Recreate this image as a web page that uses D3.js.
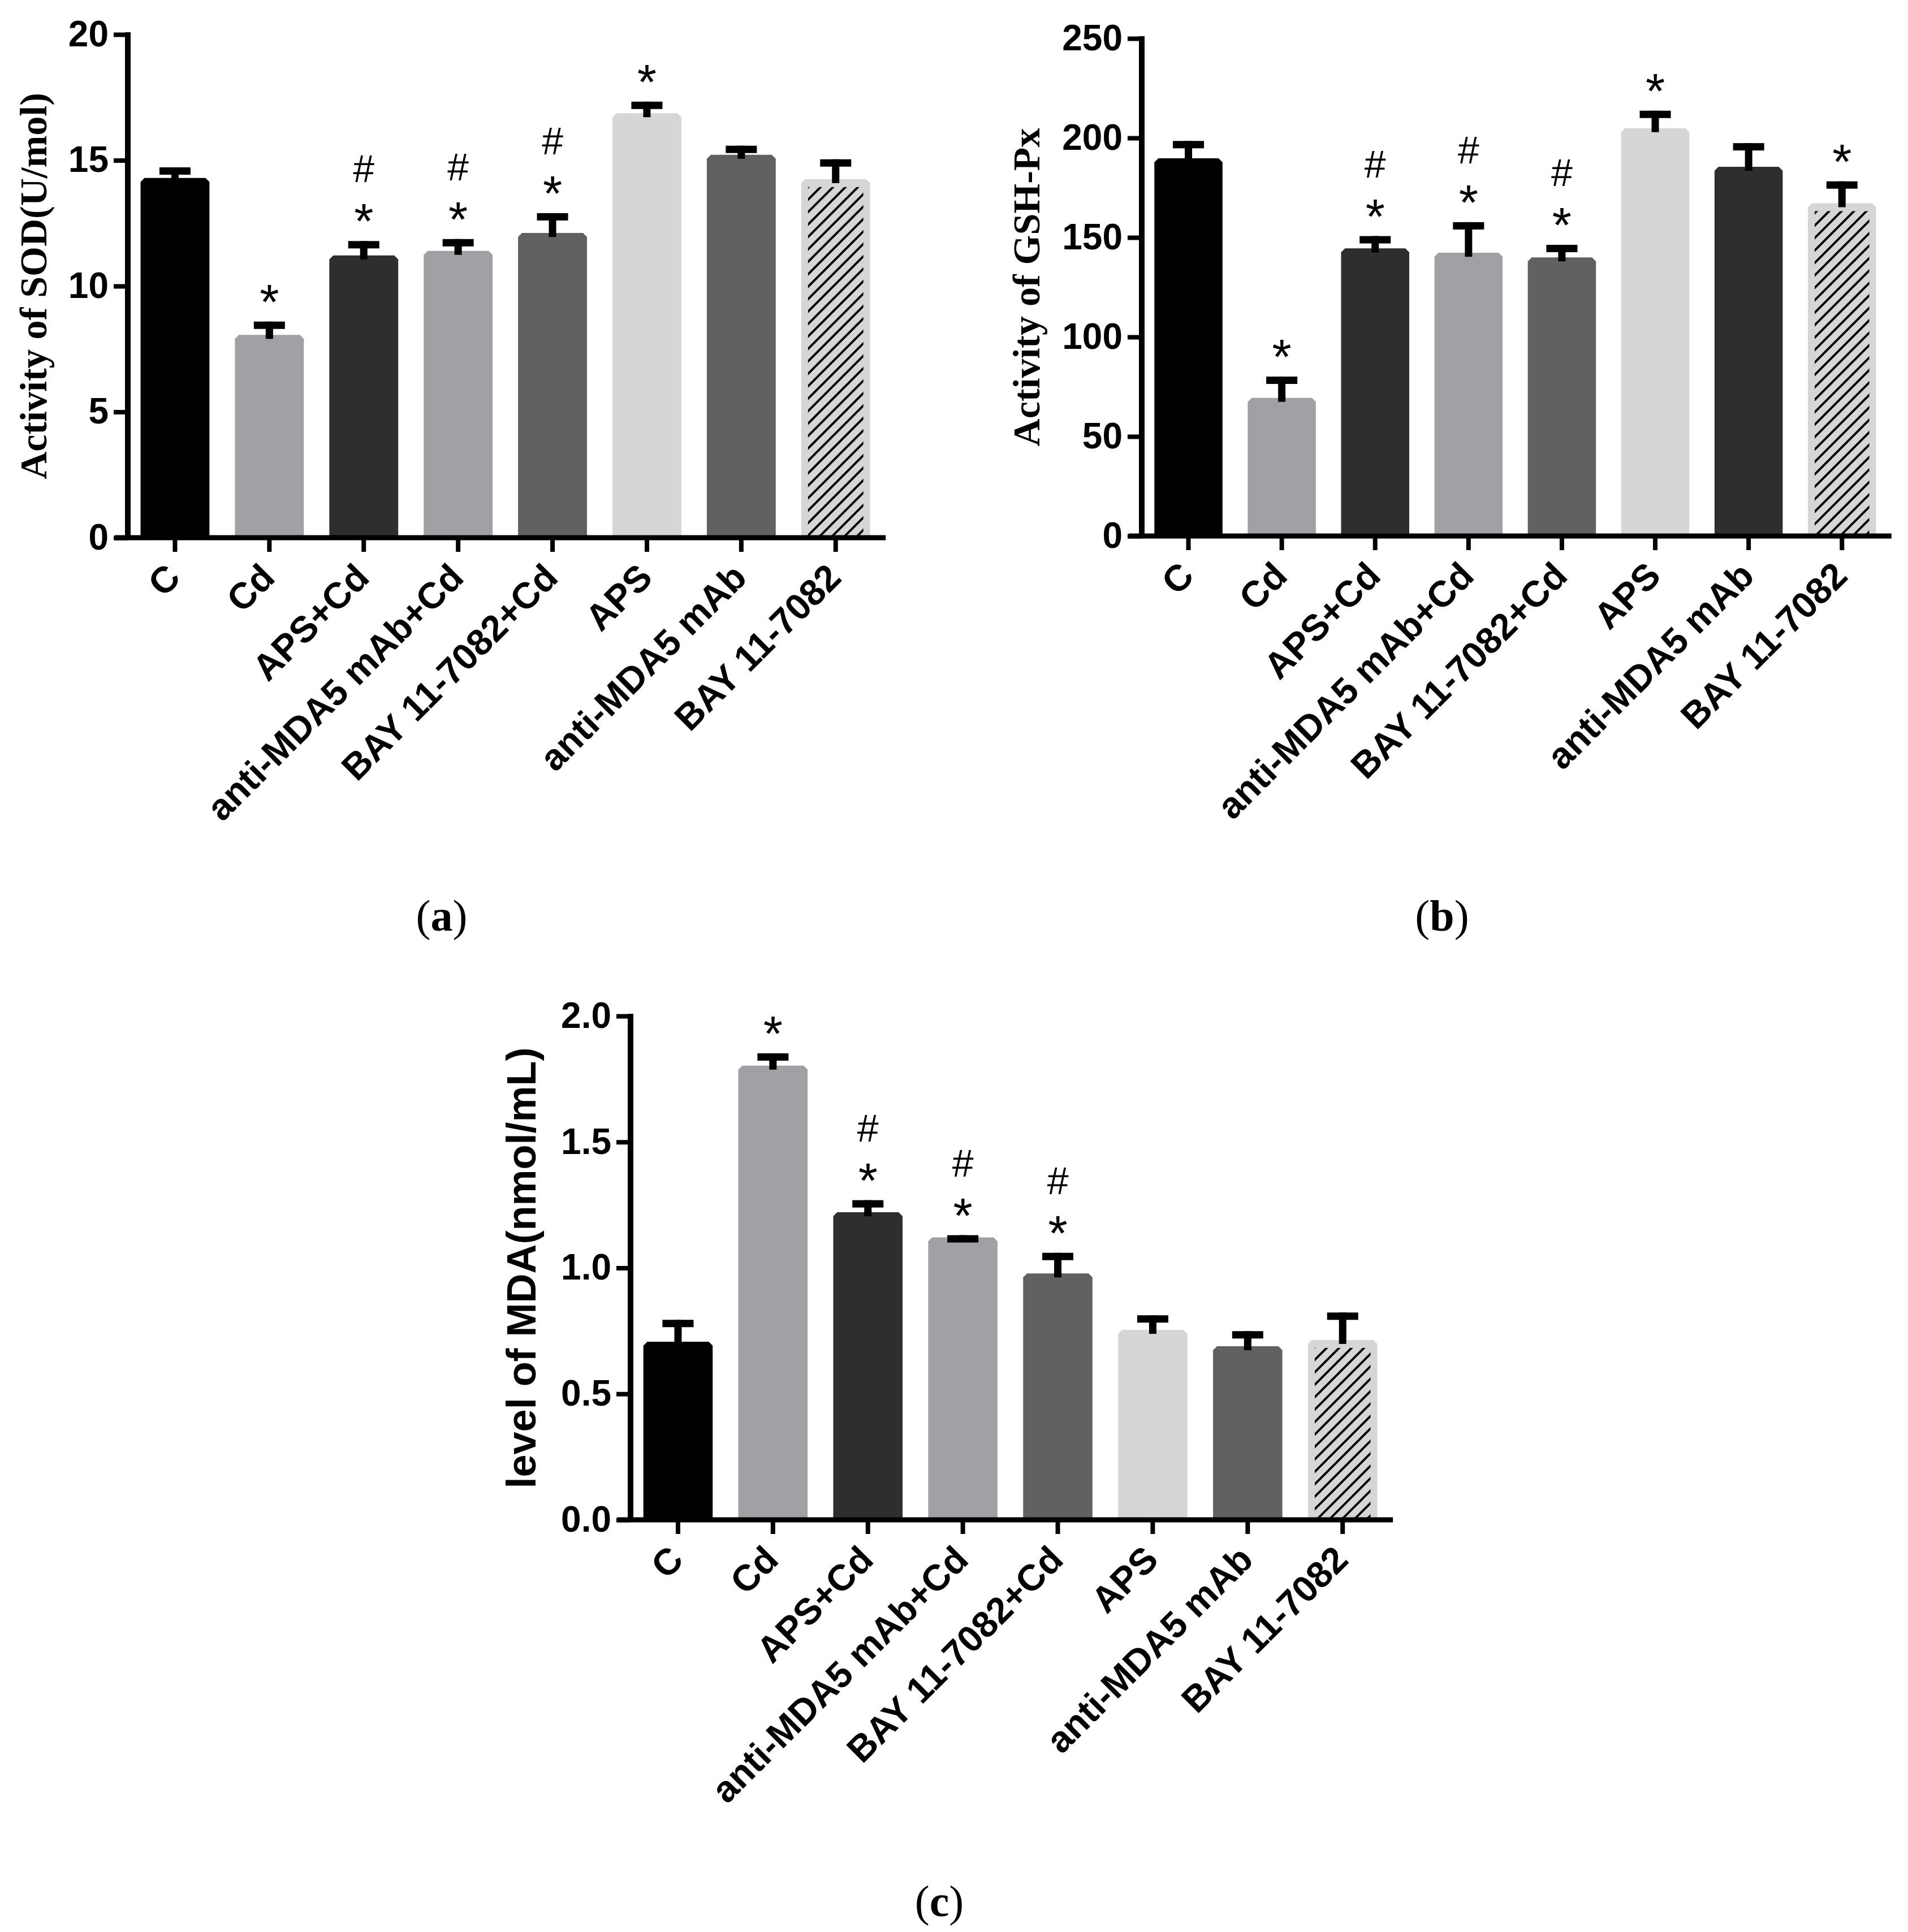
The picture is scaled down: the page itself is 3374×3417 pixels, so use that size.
<!DOCTYPE html>
<html>
<head>
<meta charset="utf-8">
<script src="https://cdnjs.cloudflare.com/ajax/libs/d3/7.8.5/d3.min.js"></script>
<style>
  body { margin: 0; background: #ffffff; }
</style>
</head>
<body>
<div id="figure"></div>
<script>
// Groups on the x axis (same for all three panels)
var categories = ["C", "Cd", "APS+Cd", "anti-MDA5 mAb+Cd", "BAY 11-7082+Cd", "APS", "anti-MDA5 mAb", "BAY 11-7082"];

// (a) SOD activity
var sodMeans = [14.3, 8.06, 11.22, 11.4, 12.11, 16.87, 15.22, 14.25];
var sodErrors = [0.42, 0.53, 0.57, 0.47, 0.79, 0.46, 0.36, 0.79];
var sodMarks = ["", "*", "#*", "#*", "#*", "*", "", ""];
var sodTicks = [0, 5, 10, 15, 20];
var sodTickLabels = ["0", "5", "10", "15", "20"];

// (b) GSH-Px activity
var gshMeans = [189.8, 69.4, 144.5, 142.3, 140.0, 204.9, 185.5, 167.2];
var gshErrors = [8.7, 10.7, 6.2, 15.4, 6.3, 8.8, 11.9, 11.0];
var gshMarks = ["", "*", "#*", "#*", "#*", "*", "", "*"];
var gshTicks = [0, 50, 100, 150, 200, 250];
var gshTickLabels = ["0", "50", "100", "150", "200", "250"];

// (c) MDA level
var mdaMeans = [0.707, 1.803, 1.221, 1.121, 0.978, 0.754, 0.689, 0.714];
var mdaErrors = [0.087, 0.049, 0.048, 0.009, 0.082, 0.058, 0.06, 0.109];
var mdaMarks = ["", "*", "#*", "#*", "#*", "", "", ""];
var mdaTicks = [0, 0.5, 1.0, 1.5, 2.0];
var mdaTickLabels = ["0.0", "0.5", "1.0", "1.5", "2.0"];

// bar fills (styles, kept apart from the data)
var fillsA = ["#000000", "#a1a1a5", "#2e2e2e", "#a1a1a5", "#606060", "#d6d6d6", "#606060", "hatch"];
var fillsB = ["#000000", "#a1a1a5", "#2e2e2e", "#a1a1a5", "#606060", "#d6d6d6", "#2e2e2e", "hatch"];
var fillsC = ["#000000", "#a1a1a5", "#2e2e2e", "#a1a1a5", "#606060", "#d6d6d6", "#606060", "hatch"];

var sans = "'Liberation Sans', Arial, Helvetica, sans-serif";
var serif = "'Liberation Serif', 'Times New Roman', Times, serif";

var svg = d3.select("#figure")
  .append("svg")
  .attr("width", 3374)
  .attr("height", 3417);

// Diagonal hatch for the last bar
svg.append("defs")
  .append("pattern")
  .attr("id", "hatch")
  .attr("patternUnits", "userSpaceOnUse")
  .attr("width", 22)
  .attr("height", 22)
  .append("path")
  .attr("d", "M-5.5,5.5L5.5,-5.5M0,22L22,0M16.5,27.5L27.5,16.5")
  .attr("stroke", "#000")
  .attr("stroke-width", 4);

function drawPanel(p) {
  var g = svg.append("g");

  var x = d3.scaleBand()
    .domain(categories)
    .range([p.left, p.left + categories.length * p.step])
    .paddingInner(0.27)
    .paddingOuter(0.135);

  var y = d3.scaleLinear()
    .domain([0, p.ticks[p.ticks.length - 1]])
    .range([p.bottom, p.top]);

  var bw = x.bandwidth();
  var rows = p.means.map(function(m, i) {
    return { cat: categories[i], mean: m, err: p.errors[i], mark: p.marks[i], fill: p.fills[i] };
  });

  // bars with slightly cut top corners
  g.selectAll(".bar")
    .data(rows)
    .enter()
    .append("path")
    .attr("class", "bar")
    .attr("d", function(d) {
      var x0 = x(d.cat), t = y(d.mean), c = 7, b = y(0);
      return "M" + x0 + "," + b + "V" + (t + c) + "L" + (x0 + c) + "," + t +
        "H" + (x0 + bw - c) + "L" + (x0 + bw) + "," + (t + c) + "V" + b + "Z";
    })
    .attr("fill", function(d) { return d.fill === "hatch" ? "#d6d6d6" : d.fill; });

  g.selectAll(".hatch")
    .data(rows.filter(function(d) { return d.fill === "hatch"; }))
    .enter()
    .append("rect")
    .attr("class", "hatch")
    .attr("x", function(d) { return x(d.cat) + 12; })
    .attr("y", function(d) { return y(d.mean) + 14; })
    .attr("width", bw - 24)
    .attr("height", function(d) { return y(0) - y(d.mean) - 14; })
    .attr("fill", "url(#hatch)");

  // error bars (upper SEM)
  var errs = g.selectAll(".err")
    .data(rows)
    .enter()
    .append("g")
    .attr("class", "err");

  errs.append("rect")
    .attr("x", function(d) { return x(d.cat) + bw / 2 - 6.5; })
    .attr("y", function(d) { return y(d.mean + d.err); })
    .attr("width", 13)
    .attr("height", function(d) { return y(d.mean) - y(d.mean + d.err) + 7; })
    .attr("fill", "#000");

  errs.append("rect")
    .attr("x", function(d) { return x(d.cat) + bw / 2 - 27.5; })
    .attr("y", function(d) { return y(d.mean + d.err); })
    .attr("width", 55)
    .attr("height", 13)
    .attr("fill", "#000");

  // significance marks
  errs.filter(function(d) { return d.mark.indexOf("*") >= 0; })
    .append("text")
    .attr("x", function(d) { return x(d.cat) + bw / 2; })
    .attr("y", function(d) { return y(d.mean + d.err) - 5; })
    .attr("text-anchor", "middle")
    .style("font-family", sans)
    .style("font-size", "88px")
    .text("*");

  errs.filter(function(d) { return d.mark.indexOf("#") >= 0; })
    .append("text")
    .attr("x", function(d) { return x(d.cat) + bw / 2; })
    .attr("y", function(d) { return y(d.mean + d.err) - 104; })
    .attr("text-anchor", "middle")
    .style("font-family", sans)
    .style("font-size", "68px")
    .text("#");

  // y axis
  var yAxis = g.append("g")
    .attr("transform", "translate(" + p.left + ",0)")
    .call(d3.axisLeft(y)
      .tickValues(p.ticks)
      .tickFormat(function(d, i) { return p.tickLabels[i]; })
      .tickSize(25)
      .tickSizeOuter(0)
      .tickPadding(9));
  yAxis.select(".domain")
    .attr("d", "M0," + (y(p.ticks[p.ticks.length - 1]) - 4) + "V" + y(0))
    .attr("stroke", "#000")
    .attr("stroke-width", 10);
  yAxis.selectAll(".tick line").attr("stroke", "#000").attr("stroke-width", 8);
  yAxis.selectAll(".tick text")
    .style("font-family", sans)
    .style("font-weight", "bold")
    .style("font-size", "64px")
    .attr("fill", "#000");

  // x axis
  var xAxis = g.append("g")
    .attr("transform", "translate(0," + y(0) + ")")
    .call(d3.axisBottom(x).tickSize(25).tickSizeOuter(0));
  xAxis.select(".domain")
    .attr("d", "M" + (p.left - 23) + ",0H" + (p.left + categories.length * p.step + 5))
    .attr("stroke", "#000")
    .attr("stroke-width", 9);
  xAxis.selectAll(".tick line").attr("stroke", "#000").attr("stroke-width", 8);
  xAxis.selectAll(".tick text")
    .attr("x", 0)
    .attr("y", 0)
    .attr("dy", "0.35em")
    .attr("text-anchor", "end")
    .attr("transform", "translate(-3,58) rotate(-45)")
    .style("font-family", sans)
    .style("font-weight", "bold")
    .style("font-size", "65px")
    .attr("fill", "#000");

  // y axis title
  g.append("text")
    .attr("transform", "translate(" + p.titleX + "," + ((p.top + p.bottom) / 2) + ") rotate(-90)")
    .attr("text-anchor", "middle")
    .style("font-family", p.titleFont)
    .style("font-weight", "bold")
    .style("font-size", p.titleSize + "px")
    .text(p.title);

  // panel caption
  var cap = g.append("text")
    .attr("x", p.capX)
    .attr("y", p.capY)
    .attr("text-anchor", "middle")
    .style("font-family", serif)
    .style("font-size", "78px");
  cap.append("tspan").text("(");
  cap.append("tspan").style("font-weight", "bold").text(p.caption);
  cap.append("tspan").text(")");
}

drawPanel({
  means: sodMeans, errors: sodErrors, marks: sodMarks, fills: fillsA,
  ticks: sodTicks, tickLabels: sodTickLabels,
  left: 226, step: 166.9, top: 61, bottom: 951,
  title: "Activity of SOD(U/mol)", titleFont: serif, titleSize: 68, titleX: 82,
  caption: "a", capX: 781, capY: 1646
});

drawPanel({
  means: gshMeans, errors: gshErrors, marks: gshMarks, fills: fillsB,
  ticks: gshTicks, tickLabels: gshTickLabels,
  left: 2019, step: 165.1, top: 68, bottom: 948,
  title: "Activity of GSH-Px", titleFont: serif, titleSize: 68, titleX: 1838,
  caption: "b", capX: 2550, capY: 1646
});

drawPanel({
  means: mdaMeans, errors: mdaErrors, marks: mdaMarks, fills: fillsC,
  ticks: mdaTicks, tickLabels: mdaTickLabels,
  left: 1115, step: 167.9, top: 1797, bottom: 2688,
  title: "level of MDA(nmol/mL)", titleFont: sans, titleSize: 72, titleX: 947,
  caption: "c", capX: 1661, capY: 3389
});
</script>
</body>
</html>
